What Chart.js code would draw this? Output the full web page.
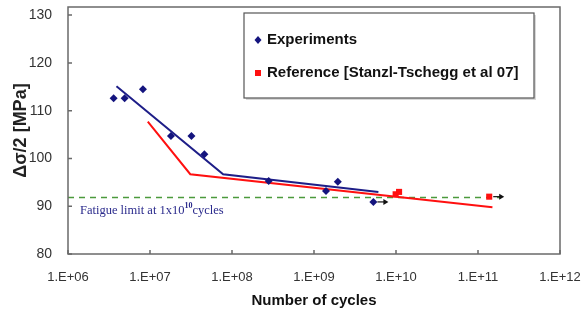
<!DOCTYPE html>
<html>
<head>
<meta charset="utf-8">
<script src="https://cdn.jsdelivr.net/npm/chart.js@4/dist/chart.umd.min.js"></script>
<style>
html, body { margin: 0; padding: 0; background: #fff; }
</style>
</head>
<body>
<canvas id="fatigue-chart" width="583" height="316"></canvas>
<script>
// experiments (cycles, stress amplitude)
var expCycles = [3.6e6, 4.9e6, 8.2e6, 1.8e7, 3.2e7, 4.6e7, 2.8e8, 1.4e9, 1.95e9, 5.3e9];
var expStress = [112.6, 112.6, 114.5, 104.7, 104.7, 100.9, 95.3, 93.2, 95.1, 90.9];

// reference points [Stanzl-Tschegg et al 07]
var refCycles = [9.9e9, 1.09e10, 1.37e11];
var refStress = [92.5, 93.0, 92.0];

// fitted lines
var expFitCycles = [3.9e6, 7.8e7, 6.1e9];
var expFitStress = [115.1, 96.7, 93.0];
var refFitCycles = [9.4e6, 3.1e7, 1.5e11];
var refFitStress = [107.7, 96.7, 89.8];

// fatigue limit line
var limitCycles = [1e6, 1.9e11];
var limitStress = [91.8, 91.8];

// run-outs (arrows)
var runoutCycles = [5.3e9, 1.37e11];
var runoutStress = [90.9, 92.0];

// axes
var xTickValues = [1e6, 1e7, 1e8, 1e9, 1e10, 1e11, 1e12];
var xTickLabels = ['1.E+06', '1.E+07', '1.E+08', '1.E+09', '1.E+10', '1.E+11', '1.E+12'];
var yTickValues = [80, 90, 100, 110, 120, 130];
var yMax = 131.7;

function toPoints(xs, ys) {
    var pts = [];
    for (var i = 0; i < xs.length; i++) {
        pts.push({x: xs[i], y: ys[i]});
    }
    return pts;
}

var BLUE = '#14147e';
var RED = '#ff1010';
var FONT = 'Arial, "Liberation Sans", sans-serif';

// plot frame and inward tick marks
var framePlugin = {
    id: 'frame',
    afterDatasetsDraw: function(chart) {
        var ctx = chart.ctx;
        var xs = chart.scales.x, ys = chart.scales.y;
        var left = xs.getPixelForValue(xTickValues[0]);
        var right = xs.getPixelForValue(xTickValues[xTickValues.length - 1]);
        var top = ys.getPixelForValue(yMax);
        var bottom = ys.getPixelForValue(yTickValues[0]);
        ctx.save();
        ctx.strokeStyle = '#6a6a6a';
        ctx.lineWidth = 1.5;
        ctx.strokeRect(left, top, right - left, bottom - top);
        ctx.beginPath();
        xTickValues.forEach(function(v) {
            var px = xs.getPixelForValue(v);
            ctx.moveTo(px, bottom);
            ctx.lineTo(px, bottom - 4);
        });
        yTickValues.forEach(function(v) {
            var py = ys.getPixelForValue(v);
            ctx.moveTo(left, py);
            ctx.lineTo(left + 4, py);
        });
        ctx.stroke();

        // run-out arrows
        ctx.strokeStyle = '#111';
        ctx.fillStyle = '#111';
        ctx.lineWidth = 1.2;
        for (var i = 0; i < runoutCycles.length; i++) {
            var x0 = xs.getPixelForValue(runoutCycles[i]) + 4;
            var y0 = ys.getPixelForValue(runoutStress[i]);
            ctx.beginPath();
            ctx.moveTo(x0, y0);
            ctx.lineTo(x0 + 7, y0);
            ctx.stroke();
            ctx.beginPath();
            ctx.moveTo(x0 + 11, y0);
            ctx.lineTo(x0 + 6, y0 - 3);
            ctx.lineTo(x0 + 6, y0 + 3);
            ctx.closePath();
            ctx.fill();
        }

        // fatigue limit note
        var ty = ys.getPixelForValue(limitStress[0]) + 16;
        var tx = left + 12;
        ctx.fillStyle = '#2a2a8c';
        ctx.textBaseline = 'alphabetic';
        ctx.font = '12.5px "Liberation Serif", "Times New Roman", serif';
        var t1 = 'Fatigue limit at 1x10';
        ctx.fillText(t1, tx, ty);
        tx += ctx.measureText(t1).width;
        ctx.font = 'bold 8px "Liberation Serif", "Times New Roman", serif';
        ctx.fillText('10', tx, ty - 6);
        tx += ctx.measureText('10').width;
        ctx.font = '12.5px "Liberation Serif", "Times New Roman", serif';
        ctx.fillText('cycles', tx, ty);
        ctx.restore();
    }
};

// legend box drawn from the dataset labels
var legendPlugin = {
    id: 'boxLegend',
    afterDraw: function(chart) {
        var ctx = chart.ctx;
        var items = chart.data.datasets.filter(function(d) { return d.inLegend; });
        ctx.save();
        ctx.fillStyle = '#d8d8d8';
        ctx.fillRect(246, 15, 290, 85);
        ctx.fillStyle = '#fff';
        ctx.fillRect(244, 13, 290, 85);
        ctx.strokeStyle = '#555';
        ctx.lineWidth = 1.2;
        ctx.strokeRect(244, 13, 290, 85);
        ctx.font = 'bold 15px ' + FONT;
        ctx.textBaseline = 'middle';
        items.forEach(function(d, i) {
            var y = 40 + i * 33;
            ctx.fillStyle = d.backgroundColor;
            ctx.beginPath();
            if (d.pointStyle === 'rectRot') {
                ctx.moveTo(258, y - 4);
                ctx.lineTo(261.5, y);
                ctx.lineTo(258, y + 4);
                ctx.lineTo(254.5, y);
            } else {
                ctx.rect(255, y - 3, 6, 6);
            }
            ctx.closePath();
            ctx.fill();
            ctx.fillStyle = '#111';
            ctx.fillText(d.label, 267, y);
        });
        ctx.restore();
    }
};

var ctx = document.getElementById('fatigue-chart').getContext('2d');

var myChart = new Chart(ctx, {
    type: 'scatter',
    data: {
        datasets: [{
            label: 'Experiments',
            inLegend: true,
            data: toPoints(expCycles, expStress),
            pointStyle: 'rectRot',
            pointRadius: 4,
            backgroundColor: BLUE,
            borderColor: BLUE,
            borderWidth: 0,
            order: 0
        }, {
            label: 'Reference [Stanzl-Tschegg et al 07]',
            inLegend: true,
            data: toPoints(refCycles, refStress),
            pointStyle: 'rect',
            pointRadius: 4.3,
            backgroundColor: RED,
            borderColor: RED,
            borderWidth: 0,
            order: 0
        }, {
            label: 'Experiments fit',
            data: toPoints(expFitCycles, expFitStress),
            showLine: true,
            pointRadius: 0,
            borderColor: '#1e1e88',
            borderWidth: 2,
            order: 1
        }, {
            label: 'Reference fit',
            data: toPoints(refFitCycles, refFitStress),
            showLine: true,
            pointRadius: 0,
            borderColor: RED,
            borderWidth: 2,
            order: 1
        }, {
            label: 'Fatigue limit',
            data: toPoints(limitCycles, limitStress),
            showLine: true,
            pointRadius: 0,
            borderColor: '#4c9a3c',
            borderWidth: 1.5,
            borderDash: [6, 5],
            order: 2
        }]
    },
    options: {
        responsive: false,
        animation: false,
        layout: { padding: { top: 7, right: 23, left: 0, bottom: 0 } },
        plugins: {
            legend: { display: false },
            tooltip: { enabled: false }
        },
        scales: {
            x: {
                type: 'logarithmic',
                min: 1e6,
                max: 1e12,
                grid: { display: false },
                border: { display: false },
                afterBuildTicks: function(axis) {
                    axis.ticks = xTickValues.map(function(v) { return {value: v}; });
                },
                afterFit: function(axis) {
                    axis.height = 62;
                    axis.paddingLeft = 0;
                    axis.paddingRight = 0;
                },
                ticks: {
                    autoSkip: false,
                    maxRotation: 0,
                    padding: 8,
                    color: '#333',
                    font: { family: FONT, size: 13 },
                    callback: function(v) {
                        var i = xTickValues.indexOf(v);
                        return i >= 0 ? xTickLabels[i] : '';
                    }
                },
                title: {
                    display: true,
                    text: 'Number of cycles',
                    color: '#111',
                    font: { family: FONT, size: 15, weight: 'bold' },
                    padding: { top: 0, bottom: 6 }
                }
            },
            y: {
                min: 80,
                max: yMax,
                grid: { display: false },
                border: { display: false },
                afterBuildTicks: function(axis) {
                    axis.ticks = yTickValues.map(function(v) { return {value: v}; });
                },
                afterFit: function(axis) {
                    axis.width = 68;
                    axis.paddingTop = 0;
                    axis.paddingBottom = 0;
                },
                ticks: {
                    padding: 8,
                    color: '#333',
                    font: { family: FONT, size: 14 }
                },
                title: {
                    display: true,
                    text: 'Δσ/2 [MPa]',
                    color: '#222',
                    font: { family: FONT, size: 18, weight: 'bold' },
                    padding: { top: 10, bottom: 0 }
                }
            }
        }
    },
    plugins: [framePlugin, legendPlugin]
});
</script>
</body>
</html>
